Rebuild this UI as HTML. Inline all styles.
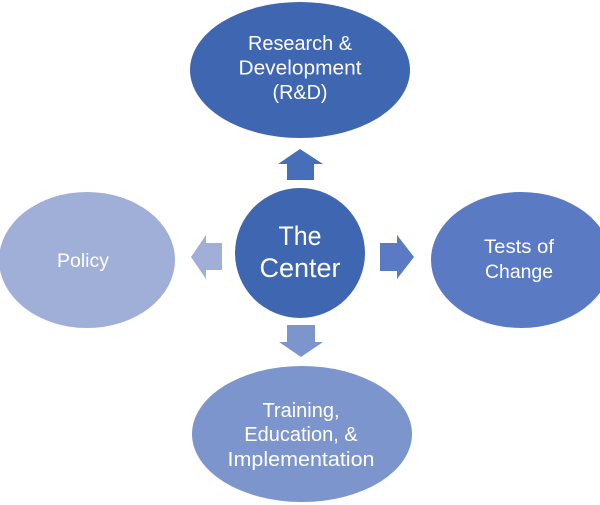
<!DOCTYPE html>
<html>
<head>
<meta charset="utf-8">
<style>
html,body{margin:0;padding:0;background:#fff;}
svg{display:block;}
text{font-family:"Liberation Sans",sans-serif;fill:#fff;text-anchor:middle;}
</style>
</head>
<body>
<svg width="600" height="505" viewBox="0 0 600 505" xmlns="http://www.w3.org/2000/svg">
  <rect width="600" height="505" fill="#fff"/>
  <!-- Top ellipse -->
  <ellipse cx="300" cy="70" rx="110" ry="68" fill="#3E66B1"/>
  <text font-size="20" x="300" y="50" textLength="104" lengthAdjust="spacingAndGlyphs">Research &amp;</text>
  <text font-size="20" x="300" y="74.5" textLength="123" lengthAdjust="spacingAndGlyphs">Development</text>
  <text font-size="20" x="300" y="99" textLength="55" lengthAdjust="spacingAndGlyphs">(R&amp;D)</text>

  <!-- Up arrow -->
  <polygon points="300,149 323,164 314,164 314,180 287,180 287,164 278,164" fill="#476EB8"/>

  <!-- Center circle -->
  <circle cx="300" cy="253" r="65" fill="#3F66B0"/>
  <text font-size="27" x="300" y="245" textLength="43" lengthAdjust="spacingAndGlyphs">The</text>
  <text font-size="27" x="300" y="277" textLength="81" lengthAdjust="spacingAndGlyphs">Center</text>

  <!-- Policy ellipse -->
  <ellipse cx="87" cy="260" rx="88" ry="68" fill="#A0AFD8"/>
  <text font-size="19.5" x="83" y="267" textLength="52" lengthAdjust="spacingAndGlyphs">Policy</text>

  <!-- Left arrow -->
  <polygon points="191,257 206,235 206,243 222,243 222,270 206,270 206,279" fill="#A0AFD8"/>

  <!-- Right arrow -->
  <polygon points="414,257 397,235 397,243 380,243 380,271 397,271 397,279" fill="#5A7BC4"/>

  <!-- Tests of Change ellipse -->
  <ellipse cx="521" cy="260" rx="90" ry="68" fill="#5A7BC4"/>
  <text font-size="19.5" x="519" y="253" textLength="70" lengthAdjust="spacingAndGlyphs">Tests of</text>
  <text font-size="19.5" x="519" y="278" textLength="68" lengthAdjust="spacingAndGlyphs">Change</text>

  <!-- Down arrow -->
  <polygon points="301,357 323,342 315,342 315,325 287,325 287,342 279,342" fill="#7C95CD"/>

  <!-- Bottom ellipse -->
  <ellipse cx="302" cy="434" rx="110" ry="68" fill="#7C95CD"/>
  <text font-size="20" x="301" y="417">Training,</text>
  <text font-size="20" x="301" y="441">Education, &amp;</text>
  <text font-size="20" x="301" y="466" textLength="147" lengthAdjust="spacingAndGlyphs">Implementation</text>
</svg>
</body>
</html>
